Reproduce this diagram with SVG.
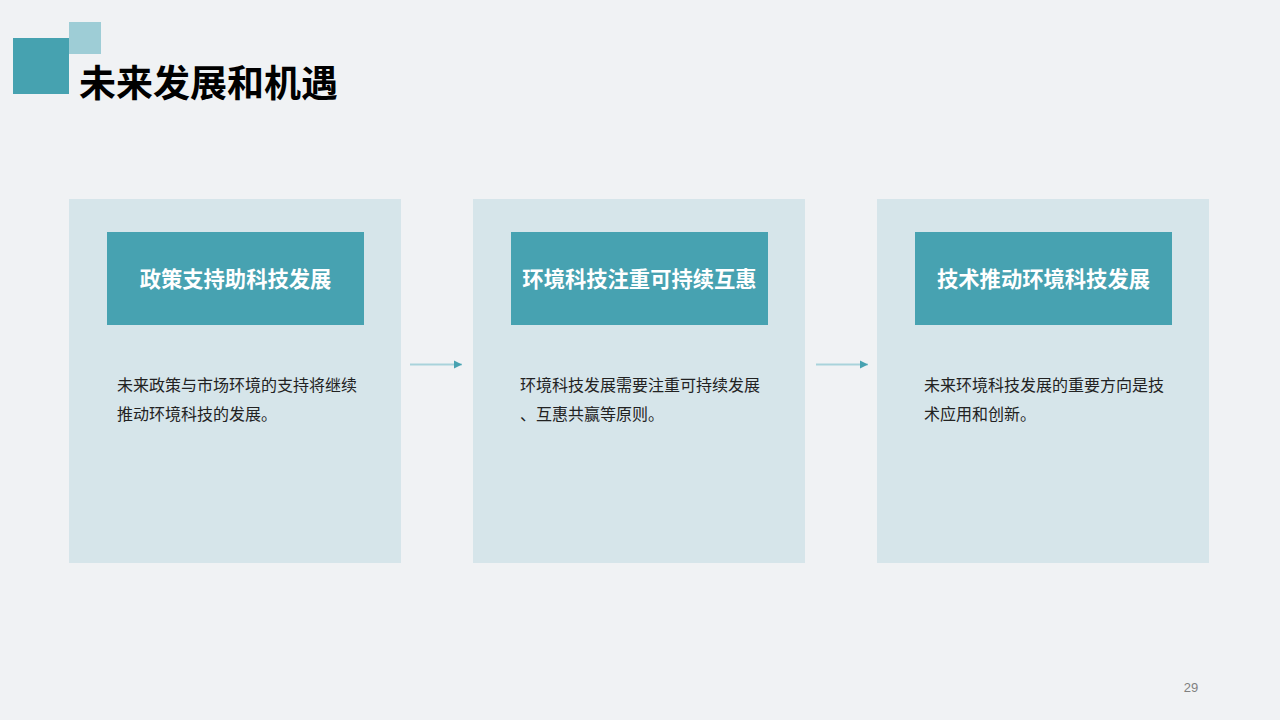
<svg xmlns="http://www.w3.org/2000/svg" width="1280" height="720" viewBox="0 0 1280 720">
<defs>
<style>
.card{fill:#D6E5EA}
.head{fill:#47A2B1}
.htxt{font-family:"Noto Sans CJK SC","Noto Sans",sans-serif;font-size:21.3px;font-weight:bold;fill:#FFFFFF;text-anchor:middle}
.btxt{font-family:"Noto Sans CJK SC","Noto Sans",sans-serif;font-size:16px;fill:#222222}
.conn{stroke:#A9D3DB;stroke-width:2;fill:none}
</style>
<marker id="ah" markerWidth="10" markerHeight="10" refX="8" refY="5" orient="auto" markerUnits="userSpaceOnUse">
<path d="M0,1 L8,5 L0,9 Z" fill="#47A2B1"/>
</marker>
</defs>
<rect width="1280" height="720" fill="#F0F2F4"/>
<g id="logo">
<rect x="69" y="22" width="32" height="32" fill="#9ECDD6"/>
<rect x="13" y="38" width="56" height="56" fill="#46A2B0"/>
</g>
<text id="title" x="79" y="97" font-family="'Noto Sans CJK SC','Noto Sans',sans-serif" font-size="37" font-weight="bold" fill="#000000">未来发展和机遇</text>
<g id="node1">
<rect class="card" x="69" y="199" width="332" height="364"/>
<rect class="head" x="107" y="232" width="257" height="93"/>
<text class="htxt" x="235.5" y="287">政策支持助科技发展</text>
<text class="btxt" x="117" y="391">未来政策与市场环境的支持将继续</text>
<text class="btxt" x="117" y="420">推动环境科技的发展。</text>
</g>
<g id="node2">
<rect class="card" x="473" y="199" width="332" height="364"/>
<rect class="head" x="511" y="232" width="257" height="93"/>
<text class="htxt" x="639.5" y="287">环境科技注重可持续互惠</text>
<text class="btxt" x="520" y="391">环境科技发展需要注重可持续发展</text>
<text class="btxt" x="520" y="420">、互惠共赢等原则。</text>
</g>
<g id="node3">
<rect class="card" x="877" y="199" width="332" height="364"/>
<rect class="head" x="915" y="232" width="257" height="93"/>
<text class="htxt" x="1043.5" y="287">技术推动环境科技发展</text>
<text class="btxt" x="924" y="391">未来环境科技发展的重要方向是技</text>
<text class="btxt" x="924" y="420">术应用和创新。</text>
</g>
<g id="connectors">
<line class="conn" x1="410" y1="364.5" x2="462" y2="364.5" marker-end="url(#ah)"/>
<line class="conn" x1="816" y1="364.5" x2="868" y2="364.5" marker-end="url(#ah)"/>
</g>
<text id="page" x="1191" y="692" font-family="'Liberation Sans',sans-serif" font-size="13" fill="#808080" text-anchor="middle">29</text>
</svg>
